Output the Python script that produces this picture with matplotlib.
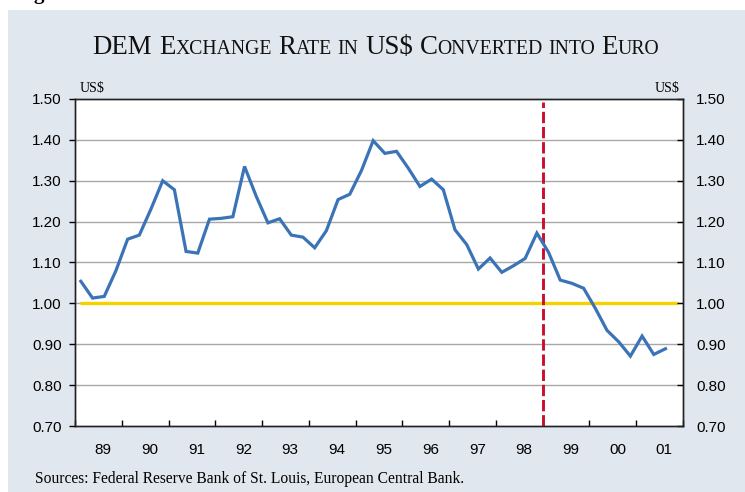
import numpy as np
import matplotlib
matplotlib.use('Agg')
import matplotlib.pyplot as plt
from matplotlib.patches import Rectangle

# --- data: quarterly DEM rate in US$ converted into euro, 1989Q1-2001Q3 ---
start_year = 1989
rate = [1.054, 1.013, 1.017, 1.080, 1.157, 1.167, 1.231, 1.300, 1.278, 1.127,
        1.123, 1.206, 1.208, 1.212, 1.335, 1.262, 1.197, 1.207, 1.167, 1.162,
        1.136, 1.178, 1.254, 1.267, 1.325, 1.398, 1.367, 1.372, 1.331, 1.286,
        1.304, 1.278, 1.180, 1.144, 1.084, 1.111, 1.076, 1.092, 1.110, 1.172,
        1.125, 1.057, 1.049, 1.037, 0.988, 0.934, 0.906, 0.871, 0.920, 0.875,
        0.889]
year_labels = ['89', '90', '91', '92', '93', '94', '95', '96', '97', '98',
               '99', '00', '01']
y_ticks = [0.70, 0.80, 0.90, 1.00, 1.10, 1.20, 1.30, 1.40, 1.50]
parity = 1.00
euro_start = 1999

x = start_year + (np.arange(len(rate)) + 0.5) / 4

panel_bg = '#E1E7EE'
serif = ['Liberation Serif', 'DejaVu Serif']
sans = ['Liberation Sans', 'DejaVu Sans']

fig = plt.figure(figsize=(7.45, 4.92), dpi=100, facecolor='white')
W, H = 745, 492
fig.patches.append(Rectangle((8 / W, 0), 1 - 8 / W, 1 - 10 / H,
                             transform=fig.transFigure, facecolor=panel_bg,
                             edgecolor='none', zorder=-10))
# cut-off caption fragment at the very top
fig.text(33 / W, 1 + 1 / H, 'g', fontsize=15, fontweight='bold', family=serif,
         va='baseline', ha='left')

ax = fig.add_axes([75 / W, 1 - 426 / H, (683 - 75) / W, (426 - 99) / H])
ax.set_facecolor('white')

n_years = len(year_labels)
ax.set_xlim(start_year, start_year + n_years)
ax.set_ylim(y_ticks[0], y_ticks[-1])

for v in y_ticks[1:-1]:
    ax.axhline(v, color='#A8A8A8', lw=1.0, zorder=1)

ax.plot([start_year + 0.1, start_year + n_years - 0.1], [parity, parity],
        color='#F7D000', lw=2.4, solid_capstyle='butt', zorder=2)
ax.axvline(euro_start, ymin=0, ymax=0.99, color='#C8102E', lw=2.1,
           linestyle=(0, (3.9, 1.3)), zorder=3)
ax.plot(x, rate, color='#3A74B7', lw=2.3, zorder=4, solid_joinstyle='miter')

# x axis: ticks at year boundaries, labels in the middle
ax.set_xticks(np.arange(start_year, start_year + n_years + 1))
ax.set_xticklabels([])
ax.set_xticks(np.arange(n_years) + start_year + 0.6, minor=True)
ax.set_xticklabels(year_labels, minor=True, family=sans, fontsize=11)
ax.tick_params(axis='x', which='major', direction='in', length=4, width=1)
ax.tick_params(axis='x', which='minor', length=0, pad=12)

ax.set_yticks(y_ticks)
ax.set_yticklabels(['%.2f' % v for v in y_ticks], family=sans, fontsize=11)
ax.tick_params(axis='y', direction='out', length=4, width=1, pad=5.5)

ax2 = ax.twinx()
ax2.set_ylim(ax.get_ylim())
ax2.set_yticks(y_ticks)
ax2.set_yticklabels(['%.2f' % v for v in y_ticks], family=sans, fontsize=11)
ax2.tick_params(axis='y', direction='in', length=4, width=1, pad=9.5)

for a in (ax, ax2):
    for s in a.spines.values():
        s.set_color('#222222')
        s.set_linewidth(1.0)

ax.text(0.008, 1.012, 'US$', transform=ax.transAxes, family=serif,
        fontsize=10, ha='left', va='bottom')
ax.text(0.995, 1.012, 'US$', transform=ax.transAxes, family=serif,
        fontsize=10, ha='right', va='bottom')

# --- small-caps title built from pieces ---
big, small = 19.4, 14.2
pieces = [('DEM', big), (' ', big), ('E', big), ('XCHANGE', small), (' ', big),
          ('R', big), ('ATE', small), (' ', small), ('IN', small), (' ', big),
          ('US$', big), (' ', big), ('C', big), ('ONVERTED', small),
          (' ', small), ('INTO', small), (' ', big), ('E', big), ('URO', small)]
renderer = fig.canvas.get_renderer()


def text_width(s, size):
    if s == ' ':
        a = fig.text(0, 0, 'I I', fontsize=size, family=serif)
        b = fig.text(0, 0, 'II', fontsize=size, family=serif)
        w = a.get_window_extent(renderer).width - b.get_window_extent(renderer).width
        a.remove()
        b.remove()
        return w
    t = fig.text(0, 0, s, fontsize=size, family=serif)
    w = t.get_window_extent(renderer).width
    t.remove()
    return w


widths = [text_width(s, sz) for s, sz in pieces]
total = sum(widths)
cx = 376
pos = cx - total / 2
base_y = 1 - 53.5 / H
for (s, sz), w in zip(pieces, widths):
    if s != ' ':
        fig.text(pos / W, base_y, s, fontsize=sz, family=serif,
                 va='baseline', ha='left', color='#111111')
    pos += w

fig.text(35 / W, 1 - 483 / H, 'Sources: Federal Reserve Bank of St. Louis, European Central Bank.',
         family=serif, fontsize=11.2, va='baseline', ha='left')

fig.savefig('out.png', dpi=100, facecolor=fig.get_facecolor())
